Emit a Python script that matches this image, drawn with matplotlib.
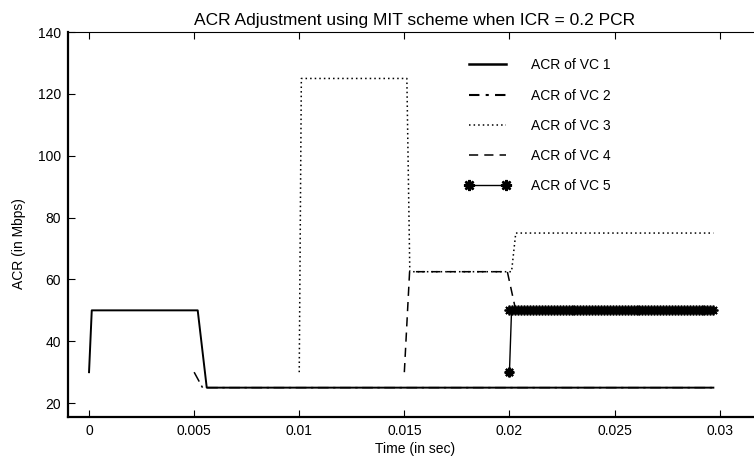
import numpy as np
import matplotlib
matplotlib.use("Agg")
import matplotlib.pyplot as plt
from matplotlib.lines import Line2D

plt.rcParams['font.family'] = ['Liberation Sans', 'DejaVu Sans']

# ACR of each VC (time in sec, ACR in Mbps)
t_vc1 = [0.0, 0.00013, 0.00517, 0.0056, 0.0297]
acr_vc1 = [30, 50, 50, 25, 25]

t_vc2 = [0.0050, 0.0054, 0.0297]
acr_vc2 = [30, 25, 25]

t_vc3 = [0.0100, 0.0101, 0.01512, 0.01526, 0.0201, 0.0203, 0.0297]
acr_vc3 = [30, 125, 125, 62.5, 62.5, 75, 75]

t_vc4 = [0.0150, 0.01525, 0.0199, 0.0203, 0.0297]
acr_vc4 = [30, 62.5, 62.5, 50, 50]

t_vc5 = [0.0200, 0.0201, 0.0297]
acr_vc5 = [30, 50, 50]
# sample times where the VC 5 markers sit on the 50 Mbps level
t_vc5_marks = np.linspace(0.0200, 0.0297, 70)
acr_vc5_marks = np.full(len(t_vc5_marks), 50)

labels = ['ACR of VC 1', 'ACR of VC 2', 'ACR of VC 3', 'ACR of VC 4', 'ACR of VC 5']
xticks = [0, 0.005, 0.01, 0.015, 0.02, 0.025, 0.03]
xticklabels = ['0', '0.005', '0.01', '0.015', '0.02', '0.025', '0.03']
yticks = [20, 40, 60, 80, 100, 120, 140]

fig = plt.figure(figsize=(7.54, 4.61), dpi=100)
ax = fig.add_axes([0.0902, 0.0954, 0.920, 0.835])

star = (8, 2, 0)
ax.plot(t_vc1, acr_vc1, color='k', lw=1.4, ls='-')
ax.plot(t_vc2, acr_vc2, color='k', lw=1.1, ls=(0, (7, 3, 1.5, 3)))
ax.plot(t_vc3, acr_vc3, color='k', lw=1.1, ls=(0, (1, 2)))
ax.plot(t_vc4, acr_vc4, color='k', lw=1.1, ls=(0, (6, 4)))
ax.plot(t_vc5, acr_vc5, color='k', lw=1.0, ls='-')
ax.plot(t_vc5[:1], acr_vc5[:1], ls='none', marker=star, color='k', ms=7, mew=1.6)
ax.plot(t_vc5_marks, acr_vc5_marks, ls='none', marker=star, color='k', ms=7, mew=1.3)

handles = [
    Line2D([], [], color='k', lw=1.8, ls='-'),
    Line2D([], [], color='k', lw=1.5, ls=(0, (5, 3, 1.5, 3))),
    Line2D([], [], color='k', lw=1.1, ls=(0, (1, 2))),
    Line2D([], [], color='k', lw=1.1, ls=(0, (6, 4))),
    Line2D([], [], color='k', lw=1.0, ls='-', marker=star, ms=8, mew=1.8),
]
ax.legend(handles, labels, loc='upper left', bbox_to_anchor=(0.572, 0.932),
          frameon=False, fontsize=10, numpoints=2, handlelength=3.3,
          handletextpad=1.5, labelspacing=1.17, borderpad=0, borderaxespad=0)

ax.set_xlim(-0.001, 0.032)
ax.set_ylim(15.5, 140)
ax.set_xticks(xticks)
ax.set_xticklabels(xticklabels)
ax.set_yticks(yticks)
ax.tick_params(direction='in', top=True, right=True, length=5, labelsize=10, pad=5)
ax.spines['left'].set_linewidth(1.6)
ax.spines['bottom'].set_linewidth(1.6)
ax.spines['top'].set_linewidth(0.8)

ax.set_title('ACR Adjustment using MIT scheme when ICR = 0.2 PCR', fontsize=12.5, pad=5)
ax.set_xlabel('Time (in sec)', fontsize=10, labelpad=3)
ax.set_ylabel('ACR (in Mbps)', fontsize=10, labelpad=4)
ax.yaxis.set_label_coords(-0.061, 0.45)

fig.savefig('out.png', dpi=100)
